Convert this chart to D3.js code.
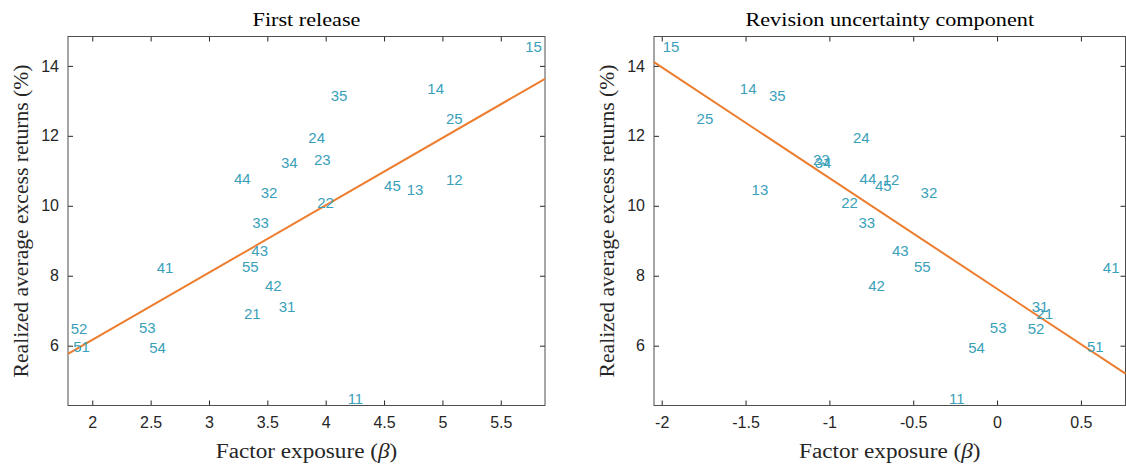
<!DOCTYPE html>
<html>
<head>
<meta charset="utf-8">
<script src="https://cdn.jsdelivr.net/npm/d3@7"></script>
<style>
  body { margin: 0; background: #fff; }
  svg { display: block; }
</style>
</head>
<body>
<svg width="1126" height="465"></svg>
<script>
// portfolio labels (size/value 5x5)
const labels = ['11','12','13','14','15','21','22','23','24','25','31','32','33','34','35',
                '41','42','43','44','45','51','52','53','54','55']

// realized average excess returns (%), same in both panels
const avgReturns = [4.49, 10.75, 10.45, 13.34, 14.55, 6.92, 10.09, 11.31, 11.95, 12.49,
                    7.11, 10.38, 9.52, 11.24, 13.15, 8.24, 7.72, 8.72, 10.78, 10.59,
                    5.97, 6.48, 6.52, 5.95, 8.27]

// factor exposure, first release
const betaFirst = [4.188, 5.031, 4.694, 4.871, 5.71, 3.30, 3.928, 3.90, 3.851, 5.031,
                   3.597, 3.443, 3.371, 3.617, 4.043, 2.552, 3.48, 3.363, 3.214, 4.50,
                   1.837, 1.815, 2.40, 2.488, 3.283]

// factor exposure, revision uncertainty component
const betaRevision = [-0.286, -0.682, -1.464, -1.534, -1.994, 0.234, -0.929, -1.098, -0.859, -1.792,
                      0.207, -0.456, -0.827, -1.088, -1.36, 0.631, -0.768, -0.627, -0.82, -0.728,
                      0.536, 0.183, -0.043, -0.172, -0.496]

// fitted lines (end points)
const fitFirstX = [1.792, 5.879]
const fitFirstY = [5.763, 13.63]
const fitRevisionX = [-2.046, 0.766]
const fitRevisionY = [14.106, 5.2]

const ticksFirst = [2, 2.5, 3, 3.5, 4, 4.5, 5, 5.5]
const ticksRevision = [-2, -1.5, -1, -0.5, 0, 0.5]
const ticksReturns = [6, 8, 10, 12, 14]

const svg = d3.select('svg')

const labelColor = '#3a9fb9'
const lineColor = '#ec7d2e'
const axisColor = '#4d4d4d'

const yDomain = [4.29, 14.84]

// serif tekst iets breder maken (LaTeX lettertype is breder dan Times)
const serifText = (x, y, rotate, size, stretch) => svg.append('text')
    .attr('transform', `translate(${x}, ${y}) rotate(${rotate}) scale(${stretch}, 1)`)
    .attr('text-anchor', 'middle')
    .attr('fill', '#262626')
    .style('font-family', '"Liberation Serif", "Times New Roman", serif')
    .style('font-size', size + 'px')

const panel = (opts) => {
    const {left, right, xDomain, xTicks, xs, title, fitX, fitY} = opts
    const top = 36.5, bottom = 405.5
    const innerWidth = right - left
    const innerHeight = bottom - top

    const xscale = d3.scaleLinear().domain(xDomain).range([0, innerWidth])
    const yscale = d3.scaleLinear().domain(yDomain).range([innerHeight, 0])

    const g = svg.append('g')
        .attr('transform', `translate(${left}, ${top})`)

    // assen met ticks naar binnen
    const fmt = d => String(d)
    const styleAxis = sel => {
        sel.select('.domain').remove()
        sel.selectAll('line').attr('stroke', '#262626')
        sel.selectAll('text')
            .attr('fill', '#262626')
            .style('font-family', '"Liberation Sans", Arial, sans-serif')
            .style('font-size', '16px')
    }

    g.append('g')
        .attr('transform', `translate(0, ${innerHeight})`)
        .call(d3.axisBottom(xscale).tickValues(xTicks).tickFormat(fmt).tickSizeInner(-5).tickSizeOuter(0).tickPadding(11))
        .call(styleAxis)
    g.append('g')
        .call(d3.axisTop(xscale).tickValues(xTicks).tickFormat('').tickSizeInner(-5).tickSizeOuter(0))
        .call(styleAxis)
    g.append('g')
        .call(d3.axisLeft(yscale).tickValues(ticksReturns).tickFormat(fmt).tickSizeInner(-5).tickSizeOuter(0).tickPadding(9))
        .call(styleAxis)
    g.append('g')
        .attr('transform', `translate(${innerWidth}, 0)`)
        .call(d3.axisRight(yscale).tickValues(ticksReturns).tickFormat('').tickSizeInner(-5).tickSizeOuter(0))
        .call(styleAxis)

    // box
    g.append('rect')
        .attr('width', innerWidth)
        .attr('height', innerHeight)
        .attr('fill', 'none')
        .attr('stroke', axisColor)
        .attr('stroke-width', 1)

    // regressielijn
    g.append('line')
        .attr('x1', xscale(fitX[0])).attr('y1', yscale(fitY[0]))
        .attr('x2', xscale(fitX[1])).attr('y2', yscale(fitY[1]))
        .attr('stroke', lineColor)
        .attr('stroke-width', 2)

    // portefeuille labels
    g.selectAll('text.pf').data(labels)
        .enter()
        .append('text')
            .attr('class', 'pf')
            .attr('x', (d, i) => xscale(xs[i]))
            .attr('y', (d, i) => yscale(avgReturns[i]))
            .attr('dy', '0.36em')
            .attr('fill', labelColor)
            .style('font-family', '"Liberation Sans", Arial, sans-serif')
            .style('font-size', '15px')
            .text(d => d)

    // titel
    serifText(left + innerWidth / 2, 26, 0, 19, 1.17)
        .attr('fill', '#000')
        .text(title)

    // x label
    const xl = serifText(left + innerWidth / 2, 458, 0, 20, 1.16)
    xl.append('tspan').text('Factor exposure (')
    xl.append('tspan').style('font-style', 'italic').text('β')
    xl.append('tspan').text(')')

    // y label
    serifText(left - 47, top + innerHeight / 2, -90, 20, 1.08)
        .attr('dy', '0.35em')
        .text('Realized average excess returns (%)')
}

panel({left: 68, right: 545, xDomain: [1.792, 5.879], xTicks: ticksFirst, xs: betaFirst,
       title: 'First release', fitX: fitFirstX, fitY: fitFirstY})
panel({left: 654, right: 1125.5, xDomain: [-2.046, 0.766], xTicks: ticksRevision, xs: betaRevision,
       title: 'Revision uncertainty component', fitX: fitRevisionX, fitY: fitRevisionY})
</script>
</body>
</html>
